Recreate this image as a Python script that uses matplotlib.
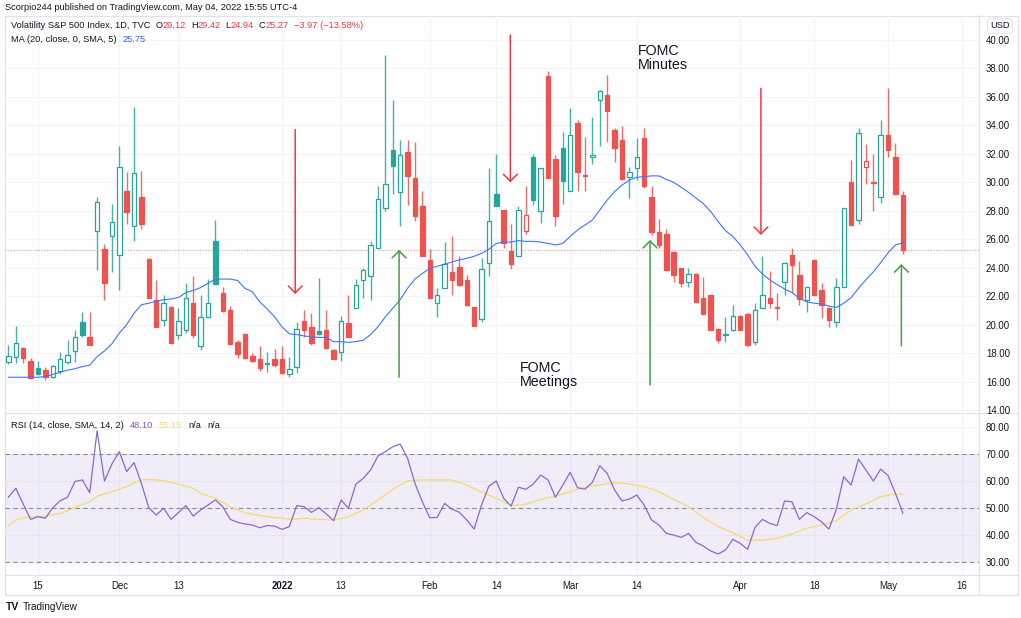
import numpy as np
import matplotlib
matplotlib.use('Agg')
import matplotlib.pyplot as plt
from matplotlib.transforms import IdentityTransform

plt.rcParams['font.family'] = ['Liberation Sans', 'DejaVu Sans']

# ---- data (VIX daily, Nov 9 2021 .. May 4 2022) ----
opens = [17.4, 17.7, 18.35, 17.45, 16.97, 16.8, 16.3, 16.75, 17.35, 18.15,
         20.2, 19.15, 26.6, 25.3, 26.2, 24.9, 29.4, 26.9, 28.95, 24.6,
         21.75, 20.3, 21.25, 19.3, 19.6, 21.55, 18.5, 20.55, 25.9, 22.25,
         21.0, 18.8, 19.35, 17.8, 17.55, 17.2, 17.55, 17.6, 16.55, 17.0,
         20.25, 19.85, 19.55, 19.6, 18.2, 18.05, 20.1, 21.15, 23.15, 23.4,
         25.35, 28.2, 32.3, 29.35, 32.15, 30.3, 28.35, 24.55, 21.5, 22.6,
         23.7, 24.05, 23.1, 21.25, 20.4, 24.35, 29.15, 28.05, 25.15, 24.8,
         26.6, 31.75, 28.0, 37.45, 31.65, 32.4, 29.4, 34.15, 30.5, 31.8,
         35.8, 36.15, 33.65, 33.0, 30.4, 31.0, 33.1, 29.0, 26.5, 26.35,
         25.1, 23.95, 23.0, 23.55, 21.85, 22.1, 19.7, 19.3, 19.6, 20.6,
         20.75, 18.75, 21.2, 21.9, 21.25, 23.0, 24.9, 23.5, 21.7, 24.55,
         22.45, 21.15, 20.2, 22.65, 30.0, 27.35, 31.05, 30.0, 28.95, 33.35,
         31.75, 29.12]
highs = [18.6, 19.9, 18.45, 17.65, 17.45, 17.0, 17.15, 18.1, 18.95, 19.6,
         20.9, 20.9, 29.0, 25.65, 28.5, 32.55, 30.7, 35.3, 30.8, 24.65,
         23.1, 22.1, 21.3, 21.15, 22.95, 23.4, 22.1, 23.2, 27.35, 22.65,
         21.3, 18.9, 19.4, 18.0, 18.5, 18.1, 18.25, 18.5, 17.75, 20.2,
         21.05, 20.8, 23.3, 21.0, 18.25, 20.6, 22.1, 23.2, 23.95, 25.9,
         29.75, 38.95, 35.8, 33.0, 32.95, 32.8, 29.4, 25.3, 22.55, 25.8,
         26.2, 24.8, 23.5, 21.25, 24.65, 31.0, 32.0, 28.05, 27.1, 28.35,
         29.75, 32.0, 31.0, 37.8, 31.9, 33.5, 35.2, 34.4, 33.15, 34.6,
         36.5, 37.55, 33.8, 33.95, 31.05, 33.1, 33.8, 29.75, 27.45, 26.75,
         25.2, 24.0, 23.95, 23.6, 23.35, 22.1, 19.75, 20.5, 21.4, 20.7,
         20.8, 21.5, 24.8, 23.8, 22.25, 24.4, 25.35, 24.5, 22.65, 24.6,
         22.9, 21.25, 23.25, 28.2, 31.6, 33.8, 32.7, 32.0, 34.35, 36.6,
         32.75, 29.42]
lows = [17.25, 17.3, 17.3, 16.15, 16.45, 16.1, 16.25, 16.5, 17.25, 17.4,
        19.1, 18.55, 23.85, 21.75, 23.7, 22.4, 27.1, 25.9, 26.75, 21.85,
        19.85, 19.9, 18.65, 19.0, 19.4, 19.05, 18.2, 20.5, 22.85, 20.9,
        18.6, 17.65, 17.55, 17.35, 16.75, 16.7, 17.05, 16.55, 16.35, 16.6,
        19.15, 18.55, 19.3, 18.25, 17.55, 17.45, 19.1, 21.15, 21.85, 21.7,
        25.35, 28.0, 29.15, 26.9, 28.4, 27.3, 24.8, 21.9, 20.5, 22.55,
        22.1, 22.7, 21.3, 19.9, 20.2, 23.4, 28.35, 25.35, 23.9, 24.8,
        26.4, 28.4, 27.15, 30.3, 26.95, 28.5, 29.4, 29.4, 29.4, 31.3,
        32.55, 32.8, 31.4, 30.15, 28.9, 30.15, 29.6, 26.3, 25.35, 23.85,
        23.0, 22.65, 22.65, 21.55, 20.75, 19.6, 18.7, 18.75, 19.55, 19.6,
        18.5, 18.55, 21.2, 21.15, 20.3, 22.1, 22.25, 21.4, 20.85, 22.1,
        20.45, 19.8, 19.85, 22.65, 26.9, 27.1, 29.9, 28.0, 28.55, 31.75,
        29.1, 24.94]
closes = [17.8, 18.7, 17.65, 16.25, 16.5, 16.35, 17.1, 17.55, 17.85, 19.15,
          19.3, 18.55, 28.6, 22.95, 27.2, 31.1, 27.9, 30.65, 27.1, 21.9,
          19.85, 21.5, 18.7, 20.25, 21.85, 19.3, 20.5, 21.5, 22.85, 20.95,
          18.65, 17.9, 17.65, 17.45, 16.95, 17.3, 17.15, 16.6, 16.9, 19.7,
          19.6, 18.7, 19.35, 18.35, 17.6, 20.25, 19.15, 22.8, 23.85, 25.6,
          28.85, 29.9, 31.15, 31.9, 30.45, 27.6, 24.8, 21.9, 22.05, 24.25,
          23.15, 22.8, 21.4, 19.9, 23.9, 27.3, 28.35, 25.7, 24.25, 28.05,
          27.7, 28.75, 31.0, 30.3, 27.6, 30.1, 33.3, 30.75, 30.45, 31.95,
          36.4, 35.0, 32.4, 30.2, 30.7, 31.75, 29.75, 26.5, 25.6, 23.85,
          23.5, 22.9, 23.55, 21.6, 20.75, 19.6, 18.9, 19.35, 20.6, 19.6,
          18.55, 21.0, 22.1, 21.5, 21.2, 24.35, 24.2, 21.8, 22.65, 22.1,
          21.35, 20.3, 22.65, 28.2, 27.0, 33.45, 31.5, 29.95, 33.35, 32.3,
          29.2, 25.27]
ma20 = [16.3, 16.3, 16.3, 16.3, 16.3, 16.35, 16.5, 16.65, 16.8, 16.9,
        17.05, 17.15, 17.75, 18.15, 18.65, 19.4, 20.0, 20.8, 21.4, 21.5,
        21.65, 21.75, 21.8, 21.9, 22.25, 22.4, 22.6, 22.9, 23.2, 23.2,
        23.2, 23.1, 22.55, 22.3, 21.6, 21.1, 20.55, 19.85, 19.35, 19.3,
        19.2, 19.15, 19.1, 19.1, 18.8, 18.8, 18.75, 18.8, 18.9, 19.3,
        19.85, 20.55, 21.15, 21.75, 22.55, 23.2, 23.6, 23.95, 24.1, 24.25,
        24.4, 24.55, 24.65, 24.8, 25.0, 25.3, 25.7, 25.8, 25.8, 25.9,
        25.85, 25.85, 25.8, 25.7, 25.6, 25.7, 26.2, 26.65, 27.0, 27.35,
        28.05, 28.75, 29.35, 29.8, 30.15, 30.35, 30.4, 30.45, 30.45, 30.2,
        30.0, 29.65, 29.3, 28.9, 28.5, 27.95, 27.25, 26.6, 26.2, 25.6,
        24.9, 24.1, 23.55, 23.15, 22.8, 22.5, 22.25, 21.85, 21.6, 21.5,
        21.45, 21.3, 21.2, 21.5, 21.9, 22.55, 23.15, 23.7, 24.35, 25.05,
        25.6, 25.75]
rsi = [54.0, 57.3, 51.5, 45.8, 46.8, 46.2, 50.1, 52.7, 54.0, 59.8,
       60.4, 55.7, 78.6, 60.0, 66.3, 70.9, 63.5, 66.8, 59.0, 50.1,
       47.4, 49.9, 45.8, 48.3, 50.9, 47.0, 49.3, 51.1, 53.0, 50.5,
       45.8, 44.7, 44.1, 43.7, 42.7, 43.5, 43.3, 42.1, 43.1, 50.9,
       50.5, 48.4, 50.1, 47.8, 45.3, 53.0, 49.9, 58.8, 61.0, 64.1,
       69.3, 70.9, 72.7, 73.7, 68.4, 59.1, 52.3, 46.4, 46.5, 51.7,
       49.6, 48.4, 45.6, 42.2, 51.1, 58.1, 60.0, 53.6, 50.7, 57.7,
       56.9, 58.9, 62.2, 60.4, 54.0, 58.5, 63.2, 57.5, 57.0, 59.5,
       65.7, 62.8, 56.7, 52.6, 53.3, 54.8, 51.1, 45.6, 43.7, 40.6,
       40.0, 39.1, 40.6, 37.3, 35.9, 34.1, 33.0, 34.4, 38.4, 36.9,
       34.7, 42.8, 45.8, 44.3, 43.5, 52.6, 52.3, 45.8, 48.3, 46.8,
       44.9, 42.2, 49.5, 61.6, 58.5, 68.1, 64.1, 60.0, 64.4, 62.0,
       55.4, 48.1]
rsi_ma = [43.3, 45.6, 46.3, 46.8, 46.9, 47.0, 47.5, 48.0, 49.0, 50.2,
          51.3, 52.3, 54.4, 55.2, 56.0, 57.0, 57.9, 59.4, 60.4, 60.6,
          60.4, 60.1, 59.5, 58.9, 58.1, 57.3, 55.4, 54.5, 53.6, 52.0,
          50.5, 49.3, 48.3, 47.7, 47.2, 46.8, 46.5, 46.2, 45.9, 46.0,
          46.2, 46.0, 45.8, 45.7, 45.6, 46.1, 46.8, 48.0, 49.3, 51.0,
          53.0, 55.0, 56.9, 58.5, 60.0, 60.3, 60.4, 60.4, 60.4, 60.4,
          60.4, 59.5, 58.5, 57.2, 56.0, 54.8, 53.6, 52.3, 51.1, 51.0,
          51.4, 52.3, 53.2, 53.8, 54.4, 55.2, 56.0, 56.9, 57.7, 58.1,
          58.5, 59.0, 59.4, 59.2, 58.9, 58.4, 57.9, 57.0, 56.0, 54.6,
          53.2, 51.9, 50.5, 48.5, 46.5, 44.8, 43.1, 42.0, 40.9, 39.5,
          38.1, 38.1, 38.1, 38.4, 38.8, 39.6, 40.4, 41.5, 42.5, 43.1,
          43.7, 44.5, 45.3, 47.3, 49.3, 50.4, 51.5, 52.9, 54.2, 54.7,
          55.2, 55.15]

# date ticks as bar numbers (future bars continue the trading-day count)
tick_bars = [4, 15, 23, 37, 45, 57, 66, 76, 85, 99, 109, 119, 129]
tick_labels = ['15', 'Dec', '13', '2022', '13', 'Feb', '14', 'Mar', '14',
               'Apr', '18', 'May', '16']

# FOMC markers: (bar, start price, end price)
red_arrows = [(38.8, 33.7, 22.15), (67.9, 40.35, 30.0), (101.8, 36.6, 26.3)]
green_arrows = [(52.85, 16.3, 25.25), (86.8, 15.75, 25.95), (120.8, 18.5, 24.25)]

GREEN = '#26a69a'
RED = '#ef5350'
GRID = '#f2f4f9'
FRAME = '#e0e3eb'
TXT = '#131722'

W, H = 1021, 618
fig = plt.figure(figsize=(W / 100, H / 100), dpi=100)


def box(x0, y0, x1, y1):
    return [x0 / W, 1 - y1 / H, (x1 - x0) / W, (y1 - y0) / H]


bg = fig.add_axes([0, 0, 1, 1], zorder=-5)
bg.set_xlim(0, W)
bg.set_ylim(H, 0)
bg.axis('off')
for yy in (16, 413, 575, 595):
    bg.plot([5, 1018], [yy, yy], color=FRAME, lw=0.9)
for xx in (5, 979, 1018):
    bg.plot([xx, xx], [16, 595], color=FRAME, lw=0.9)

ax = fig.add_axes(box(5, 16, 979, 413))
rs = fig.add_axes(box(5, 413, 979, 575), sharex=ax)
for a in (ax, rs):
    a.set_facecolor('none')
    for s in a.spines.values():
        s.set_visible(False)
    a.yaxis.tick_right()
    a.tick_params(length=0, labelsize=6.9, labelcolor=TXT, pad=5)
    a.grid(True, color=GRID, lw=0.9)
    a.set_axisbelow(True)

o_ = np.array(opens); h_ = np.array(highs); l_ = np.array(lows); c_ = np.array(closes)
x = np.arange(len(o_))
prev = np.r_[o_[0], c_[:-1]]
col = np.where(c_ >= prev, GREEN, RED)
hollow = c_ > o_
lo = np.minimum(o_, c_)
hi = np.maximum(o_, c_)
ht = np.maximum(hi - lo, 0.07)
face = np.where(hollow, 'white', col)
ax.vlines(x, hi, h_, color=col, lw=1.0, alpha=0.85, zorder=2)
ax.vlines(x, l_, lo, color=col, lw=1.0, alpha=0.85, zorder=2)
ax.bar(x, ht, bottom=lo, width=0.6, color=face, edgecolor=col, linewidth=0.9, zorder=3)

ax.plot(x, ma20, color='#3d74ff', lw=0.8, zorder=4)
ax.axhline(closes[-1], color=RED, lw=0.8, ls=(0, (1, 1.5)), alpha=0.6, zorder=1)

for xb, y0, y1 in red_arrows:
    ax.annotate('', xy=(xb, y1), xytext=(xb, y0),
                arrowprops=dict(arrowstyle='->,head_length=0.5,head_width=0.5',
                                color='#f23645', lw=1.1, mutation_scale=10,
                                shrinkA=0, shrinkB=0), zorder=5)
for xb, y0, y1 in green_arrows:
    ax.annotate('', xy=(xb, y1), xytext=(xb, y0),
                arrowprops=dict(arrowstyle='->,head_length=0.5,head_width=0.5',
                                color='#43a047', lw=1.1, mutation_scale=10,
                                shrinkA=0, shrinkB=0), zorder=5)

ax.text(85.2, 39.75, 'FOMC\nMinutes', fontsize=10.3, color=TXT, va='top',
        ha='left', linespacing=1.0)
ax.text(69.2, 17.45, 'FOMC\nMeetings', fontsize=10.3, color=TXT, va='top',
        ha='left', linespacing=1.0)

ax.set_ylim(13.787, 41.687)
ax.set_yticks(np.arange(14, 41, 2))
ax.set_yticklabels([f'{v:.2f}' for v in np.arange(14, 41, 2)])
ax.set_xlim(-0.46, 131.3)
ax.set_xticks(tick_bars)
ax.tick_params(labelbottom=False)

rs.axhspan(30, 70, color='#7e57c2', alpha=0.1, lw=0)
for lvl in (30, 50, 70):
    rs.axhline(lvl, color='#8a8d96', lw=0.8, ls=(0, (4, 3)))
rs.plot(x, rsi, color='#8a68d0', lw=0.9, zorder=4)
rs.plot(x, rsi_ma, color='#f7d96b', lw=0.9, zorder=3)
rs.set_ylim(25.19, 85.19)
rs.set_yticks([30, 40, 50, 60, 70, 80])
rs.set_yticklabels([f'{v:.2f}' for v in (30, 40, 50, 60, 70, 80)])
rs.set_xticks(tick_bars)
rs.set_xticklabels(tick_labels)
rs.tick_params(axis='x', pad=4.5)
for t in rs.get_xticklabels():
    if t.get_text() == '2022':
        t.set_fontweight('bold')

r = fig.canvas.get_renderer()


def line_of(xp, yp, parts, size=6.7, weight='normal'):
    for s, c, gap in parts:
        t = fig.text(xp, H - yp, s, color=c, fontsize=size, va='center',
                     ha='left', transform=IdentityTransform(), fontweight=weight)
        xp += t.get_window_extent(r).width + gap


line_of(5, 8, [('Scorpio244 published on TradingView.com, May 04, 2022 15:55 UTC-4', TXT, 0)])
line_of(11, 26, [('Volatility S&P 500 Index, 1D, TVC', TXT, 5),
                 ('O', TXT, 0), ('29.12', '#f23645', 5),
                 ('H', TXT, 0), ('29.42', '#f23645', 5),
                 ('L', TXT, 0), ('24.94', '#f23645', 5),
                 ('C', TXT, 0), ('25.27', '#f23645', 5),
                 ('\u22123.97 (\u221213.58%)', '#f23645', 0)])
line_of(11, 39, [('MA (20, close, 0, SMA, 5)', TXT, 6), ('25.75', '#2962ff', 0)])
line_of(11, 426, [('RSI (14, close, SMA, 14, 2)', TXT, 6), ('48.10', '#7e57c2', 6),
                  ('55.15', '#f7d96b', 6), ('n/a', TXT, 6), ('n/a', TXT, 0)])

fig.text(1000, H - 26, 'USD', fontsize=6.7, color=TXT, ha='center', va='center',
         transform=IdentityTransform(),
         bbox=dict(boxstyle='round,pad=0.3', fc='white', ec=FRAME, lw=0.8))

line_of(6, 607, [('TV', TXT, 3)], size=7.5, weight='heavy')
line_of(23, 607, [('TradingView', TXT, 0)], size=7.2)

fig.savefig('out.png', dpi=100)
